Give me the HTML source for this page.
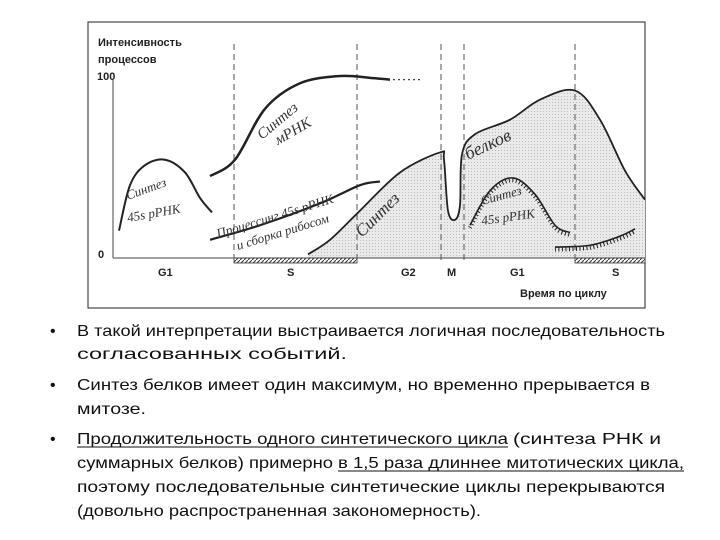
<!DOCTYPE html>
<html><head><meta charset="utf-8"><style>
body{margin:0;background:#fff;width:720px;height:540px;overflow:hidden}
svg{display:block}
</style></head><body>
<svg width="720" height="540" font-family="Liberation Sans, sans-serif">
<defs>
<pattern id="dots" width="3" height="3" patternUnits="userSpaceOnUse"><rect width="3" height="3" fill="#eaeaea"/><rect width="1" height="1" fill="#bbb"/></pattern>
<pattern id="hatch" width="4" height="4" patternUnits="userSpaceOnUse"><rect width="4" height="4" fill="#fff"/><path d="M0 4L4 0" stroke="#333" stroke-width="1"/></pattern>
</defs>
<rect x="88" y="22" width="557" height="286" fill="#fff" stroke="#222" stroke-width="1"/>
<g id="chart"></g>
<text x="98" y="46" font-size="11" font-weight="bold" fill="#222">Интенсивность</text>
<text x="98" y="63" font-size="11" font-weight="bold" fill="#222">процессов</text>
<text x="97" y="80" font-size="11" font-weight="bold" fill="#222">100</text>
<text x="98" y="258" font-size="11" font-weight="bold" fill="#222">0</text>
<text x="520" y="297" font-size="11" font-weight="bold" fill="#222">Время по циклу</text>
<g font-family="Liberation Serif, serif" font-style="italic" font-size="13" fill="#333">
<text transform="translate(128,200) rotate(-20)">Синтез</text>
<text transform="translate(128,222) rotate(-10)">45s рРНК</text>
<text transform="translate(262,140) rotate(-40)" font-size="15">Синтез</text>
<text transform="translate(278,145) rotate(-30)" font-size="15">мРНК</text>
<text transform="translate(218,238) rotate(-17)">Процессинг 45s рРНК</text>
<text transform="translate(238,250) rotate(-17)">и сборка рибосом</text>
<text transform="translate(362,238) rotate(-45)" font-size="17">Синтез</text>
<text transform="translate(468,160) rotate(-25)" font-size="18">белков</text>
<text transform="translate(482,205) rotate(-15)">Синтез</text>
<text transform="translate(482,225) rotate(-8)">45s рРНК</text>
</g>
<g font-size="11" font-weight="bold" fill="#222">
<text x="158" y="276">G1</text>
<text x="287" y="276">S</text>
<text x="401" y="276">G2</text>
<text x="447" y="276">M</text>
<text x="510" y="276">G1</text>
<text x="612" y="276">S</text>
</g>
<g font-family="Liberation Sans, sans-serif" font-size="16" fill="#111" id="bullets">
<text x="50" y="336">•</text>
<text x="77" y="336" textLength="588" lengthAdjust="spacingAndGlyphs">В такой интерпретации выстраивается логичная последовательность</text>
<text x="77" y="359" textLength="270" lengthAdjust="spacingAndGlyphs">согласованных событий.</text>
<text x="50" y="390">•</text>
<text x="77" y="390" textLength="573" lengthAdjust="spacingAndGlyphs">Синтез белков имеет один максимум, но временно прерывается в</text>
<text x="77" y="414" textLength="69" lengthAdjust="spacingAndGlyphs">митозе.</text>
<text x="50" y="444">•</text>
<text x="77" y="444" textLength="431" lengthAdjust="spacingAndGlyphs">Продолжительность одного синтетического цикла</text>
<text x="513" y="444" textLength="148" lengthAdjust="spacingAndGlyphs">(синтеза РНК и</text>
<text x="77" y="468" textLength="256" lengthAdjust="spacingAndGlyphs">суммарных белков) примерно</text>
<text x="338" y="468" textLength="346" lengthAdjust="spacingAndGlyphs">в 1,5 раза длиннее митотических цикла,</text>
<text x="77" y="492" textLength="588" lengthAdjust="spacingAndGlyphs">поэтому последовательные синтетические циклы перекрываются</text>
<text x="77" y="516" textLength="404" lengthAdjust="spacingAndGlyphs">(довольно распространенная закономерность).</text>
<line x1="77" y1="447" x2="508" y2="447" stroke="#111" stroke-width="1"/>
<line x1="338" y1="471" x2="684" y2="471" stroke="#111" stroke-width="1"/>
</g>
</svg>
<script>
// data: [time, intensity 0..100]
const rrna45s1 = [[6,15],[17,40],[32,51],[52,54],[72,47],[87,33],[99,25]];
const mrna = [[97,45],[122,54],[152,82],[187,96],[227,100],[257,99],[277,98]];
const processing = [[97,10],[147,18],[207,30],[247,40],[267,42]];
const protein = [[195,2],[217,10],[247,26],[287,47],[327,58],[331,54],[335,26],[342,21],[347,29],[349,57],[362,68],[397,76],[427,87],[462,92],[487,76],[512,48],[532,32]];
const rrna45s2 = [[357,18],[377,37],[400,44],[422,35],[442,18],[457,14]];
const rrnaHatched = [[442,6],[477,7],[507,12],[522,16]];
const phaseBounds = [121,244,328,351,462];
const sBars = [[121,244],[462,532]];

const X0=113, Y0=258, YS=1.82;
const xs=t=>X0+t, ys=v=>Y0-v*YS;
const NS='http://www.w3.org/2000/svg';
const g=document.getElementById('chart');
function mk(tag,attrs){const e=document.createElementNS(NS,tag);for(const k in attrs)e.setAttribute(k,attrs[k]);g.appendChild(e);return e;}
function smooth(pts){const p=pts.map(([t,v])=>[xs(t),ys(v)]);let d=`M${p[0][0]},${p[0][1]}`;
for(let i=0;i<p.length-1;i++){const a=p[i-1]||p[i],b=p[i],c=p[i+1],e=p[i+2]||c;
d+=` C${b[0]+(c[0]-a[0])/6},${b[1]+(c[1]-a[1])/6} ${c[0]-(e[0]-b[0])/6},${c[1]-(e[1]-b[1])/6} ${c[0]},${c[1]}`;}return d;}
let area=mk('path',{d:smooth(protein)+` L${xs(protein[protein.length-1][0])},${Y0} L${xs(protein[0][0])},${Y0} Z`,fill:'url(#dots)',stroke:'none'});


let ya=mk('line',{x1:X0,y1:80,x2:X0,y2:Y0,stroke:'#444','stroke-width':1});


let xa=mk('line',{x1:X0,y1:Y0,x2:645,y2:Y0,stroke:'#444','stroke-width':1});


sBars.forEach(([a,b])=>{const r=mk('rect',{x:xs(a),y:Y0,width:b-a,height:5,fill:'url(#hatch)',stroke:'#333','stroke-width':0.8});

});
phaseBounds.forEach(t=>{const l=mk('line',{x1:xs(t),y1:44,x2:xs(t),y2:Y0+5,stroke:'#555','stroke-width':1,'stroke-dasharray':'6,4'});

});
function curve(pts,name,w,dash,ty){const c=mk('path',{d:smooth(pts),fill:'none',stroke:'#222','stroke-width':w});if(dash)c.setAttribute('stroke-dasharray',dash);if(ty)c.setAttribute('transform',`translate(0,${ty})`);

return c;}
curve(rrna45s1,'rrna45s-curve-1',2);
curve(mrna,'mrna-curve',2.5);
const last=mrna[mrna.length-1];
let dl=mk('line',{x1:xs(last[0])+3,y1:ys(last[1]),x2:xs(last[0])+30,y2:ys(last[1]),stroke:'#444','stroke-width':1.2,'stroke-dasharray':'2,3'});


curve(processing,'processing-curve',2.2);
curve(protein,'protein-curve',1.8);
curve(rrna45s2,'rrna45s-curve-2',1.6);
curve(rrna45s2,'rrna45s-curve-2-ticks',4,'1,2.5',2.5);
curve(rrnaHatched,'rrna45s-hatched',1.6);
curve(rrnaHatched,'rrna45s-hatched-ticks',4,'1,2.5',2.5);
</script>
</body></html>
